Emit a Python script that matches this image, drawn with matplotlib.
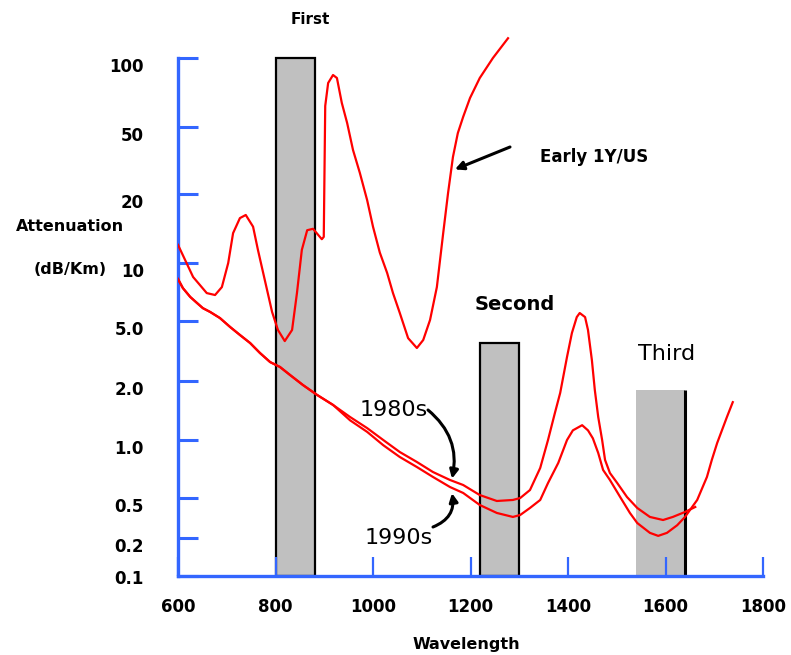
import numpy as np
import matplotlib
matplotlib.use('Agg')
import matplotlib.pyplot as plt
from matplotlib.transforms import ScaledTranslation

# attenuation axis: tick values and how far above the wavelength axis each sits (px)
tick_values = [0.1, 0.2, 0.5, 1.0, 2.0, 5.0, 10, 20, 50, 100]
tick_labels = ['0.1', '0.2', '0.5', '1.0', '2.0', '5.0', '10', '20', '50', '100']
tick_heights = [0, 38, 78, 136, 195, 255, 313, 382, 449, 518]

# early 1970s fibre
early_wl = [600, 631, 659, 676, 690, 703, 713, 727, 739, 754, 764, 778, 793, 805,
            819, 834, 844, 854, 865, 877, 895, 899, 902, 908, 918, 926, 936, 947,
            959, 973, 988, 1000, 1014, 1029, 1041, 1055, 1072, 1090, 1103, 1117,
            1131, 1144, 1154, 1164, 1174, 1185, 1199, 1219, 1246, 1277]
early_db = [12.0, 8.46, 6.98, 6.82, 7.50, 10.0, 13.5, 15.7, 16.2, 14.4, 11.4, 8.17,
            5.57, 4.36, 3.68, 4.36, 6.98, 11.4, 13.9, 14.1, 12.7, 13.0, 61.8, 77.8,
            84.3, 81.8, 63.7, 52.0, 36.5, 26.7, 18.8, 14.4, 11.1, 8.88, 6.98, 5.50,
            3.85, 3.31, 3.74, 5.06, 7.50, 13.5, 20.3, 33.2, 46.0, 55.4, 66.9, 81.8,
            100, 122]

# 1980s fibre
wl_80s = [600, 610, 625, 639, 651, 666, 686, 707, 727, 748, 768, 789, 809, 830, 856,
          885, 918, 953, 988, 1021, 1055, 1090, 1123, 1158, 1185, 1219, 1254, 1287,
          1302, 1322, 1343, 1359, 1373, 1384, 1398, 1408, 1418, 1424, 1435, 1441,
          1449, 1455, 1462, 1470, 1476, 1486, 1501, 1521, 1542, 1568, 1595, 1615,
          1640, 1661]
db_80s = [8.26, 7.41, 6.67, 6.20, 5.83, 5.57, 5.18, 4.56, 4.04, 3.57, 3.07, 2.67,
          2.48, 2.19, 1.91, 1.70, 1.51, 1.31, 1.15, 1.00, 0.866, 0.769, 0.682, 0.620,
          0.584, 0.518, 0.467, 0.478, 0.500, 0.550, 0.716, 1.00, 1.37, 1.74, 2.89,
          4.16, 5.24, 5.50, 5.24, 4.36, 2.75, 1.80, 1.31, 1.00, 0.788, 0.674, 0.598,
          0.506, 0.398, 0.324, 0.302, 0.324, 0.363, 0.407]

# 1990s fibre
wl_90s = [600, 610, 625, 639, 651, 666, 686, 707, 727, 748, 768, 789, 809, 830, 856,
          885, 918, 953, 988, 1021, 1055, 1090, 1123, 1158, 1185, 1219, 1254, 1287,
          1302, 1322, 1343, 1359, 1380, 1398, 1410, 1429, 1441, 1451, 1462, 1472,
          1486, 1507, 1527, 1542, 1568, 1585, 1603, 1624, 1640, 1665, 1685, 1695,
          1706, 1726, 1738]
db_90s = [8.26, 7.41, 6.67, 6.20, 5.83, 5.57, 5.18, 4.56, 4.04, 3.57, 3.07, 2.67,
          2.48, 2.19, 1.91, 1.70, 1.51, 1.26, 1.10, 0.94, 0.816, 0.724, 0.643, 0.570,
          0.531, 0.426, 0.355, 0.324, 0.339, 0.398, 0.478, 0.598, 0.760, 1.00, 1.12,
          1.19, 1.12, 1.02, 0.856, 0.699, 0.620, 0.506, 0.355, 0.282, 0.225, 0.210,
          0.225, 0.268, 0.324, 0.478, 0.643, 0.788, 0.965, 1.31, 1.56]

# transmission windows
win_names = ['First', 'Second', 'Third']
win_start = [800, 1220, 1540]
win_end = [880, 1300, 1640]
win_top = [100, 3.6, 1.8]

xticks = [600, 800, 1000, 1200, 1400, 1600, 1800]

BLUE = '#3366ff'
W, H = 791, 655

# piecewise log scale, extended past both ends
node_logs = np.concatenate([[-2], np.log10(tick_values), [3]])
node_h = np.concatenate([[-126], tick_heights, [747]])


def forward(v):
    v = np.clip(np.asarray(v, dtype=float), 1e-6, None)
    return np.interp(np.log10(v), node_logs, node_h)


def inverse(h):
    return 10 ** np.interp(h, node_h, node_logs)


def at(x, y):
    return x / W, 1 - y / H


fig = plt.figure(figsize=(W / 100, H / 100), dpi=100)
ax = fig.add_axes([178 / W, (H - 576) / H, 585 / W, 556 / H])
ax.set_yscale('function', functions=(forward, inverse))
ax.set_xlim(600, 1800)
ax.set_ylim(0.1, inverse(556))

# windows
for i in range(3):
    ax.bar(win_start[i], win_top[i] - 0.1, width=win_end[i] - win_start[i], bottom=0.1,
           align='edge', color='#c0c0c0',
           edgecolor='black' if i < 2 else 'none', linewidth=1.6, zorder=1)
ax.vlines(win_end[2], 0.1, win_top[2], color='black', lw=2.2, zorder=1)

ax.plot(early_wl, early_db, color='#ff0000', lw=1.6, zorder=3)
ax.plot(wl_80s, db_80s, color='#ff0000', lw=1.6, zorder=3)
ax.plot(wl_90s, db_90s, color='#ff0000', lw=1.6, zorder=3)

# axes
for s in ['top', 'right']:
    ax.spines[s].set_visible(False)
ax.spines['left'].set_bounds(0.1, 100)
ax.spines['bottom'].set_bounds(600, 1800)
for s in ['left', 'bottom']:
    ax.spines[s].set_color(BLUE)
    ax.spines[s].set_linewidth(2.4)

ax.set_xticks(xticks)
ax.set_xticklabels([str(t) for t in xticks], fontsize=12, fontweight='bold')
ax.tick_params(axis='x', direction='in', length=14, width=1.6, color=BLUE, pad=16)

ax.set_yticks(tick_values)
ax.set_yticklabels([])
ax.tick_params(axis='y', direction='in', length=14.5, width=2.2, color=BLUE)
for v, lab in zip(tick_values, tick_labels):
    dy = 3 if lab == '0.1' else 9
    tr = ax.get_yaxis_transform() + ScaledTranslation(-0.34, -dy / 100, fig.dpi_scale_trans)
    ax.text(0, v, lab, transform=tr, ha='right', va='center', fontsize=12, fontweight='bold')

fig.text(*at(70, 227), 'Attenuation', ha='center', va='center', fontsize=11.5, fontweight='bold')
fig.text(*at(70, 270), '(dB/Km)', ha='center', va='center', fontsize=11.5, fontweight='bold')
fig.text(*at(466, 645), 'Wavelength', ha='center', va='center', fontsize=11.5, fontweight='bold')

fig.text(*at(310, 20), win_names[0], ha='center', va='center', fontsize=11, fontweight='bold')
fig.text(*at(515, 305), win_names[1], ha='center', va='center', fontsize=14, fontweight='bold')
fig.text(*at(667, 354), win_names[2], ha='center', va='center', fontsize=16)

fig.text(*at(594, 157), 'Early 1Y/US', ha='center', va='center', fontsize=12, fontweight='bold')
fig.text(*at(394, 410), '1980s', ha='center', va='center', fontsize=16)
fig.text(*at(399, 538), '1990s', ha='center', va='center', fontsize=16)

arrow = dict(arrowstyle='-|>,head_length=0.5,head_width=0.25', color='black', lw=2.2,
             shrinkA=0, shrinkB=0)
ax.annotate('', xy=(1168, 28), xytext=at(510, 147), textcoords='figure fraction',
            arrowprops=arrow)
ax.annotate('', xy=(1162, 0.63), xytext=at(428, 410), textcoords='figure fraction',
            arrowprops=dict(arrow, connectionstyle='arc3,rad=-0.3'))
ax.annotate('', xy=(1162, 0.53), xytext=at(433, 527), textcoords='figure fraction',
            arrowprops=dict(arrow, connectionstyle='arc3,rad=0.4'))

fig.savefig('out.png', dpi=100)
